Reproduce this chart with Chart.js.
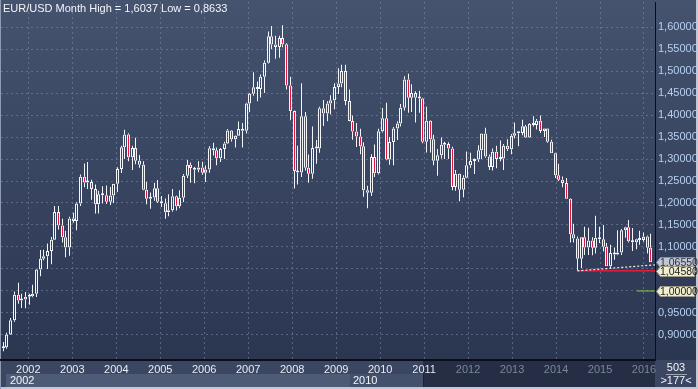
<!DOCTYPE html>
<html>
<head>
<meta charset="utf-8">
<script src="https://cdn.jsdelivr.net/npm/chart.js@4.4.0/dist/chart.umd.min.js"></script>
<style>
html,body{margin:0;padding:0;background:#2e3a55;overflow:hidden}
#wrap{width:698px;height:389px;position:relative}
canvas{display:block}
</style>
</head>
<body>
<div id="wrap"><canvas id="c" width="698" height="389"></canvas></div>
<script>
// ---- categories (one candle per month) ----
const months = [
 '2002-03','2002-04','2002-05','2002-06','2002-07','2002-08','2002-09','2002-10','2002-11','2002-12',
 '2003-01','2003-02','2003-03','2003-04','2003-05','2003-06','2003-07','2003-08','2003-09','2003-10','2003-11','2003-12',
 '2004-01','2004-02','2004-03','2004-04','2004-05','2004-06','2004-07','2004-08','2004-09','2004-10','2004-11','2004-12',
 '2005-01','2005-02','2005-03','2005-04','2005-05','2005-06','2005-07','2005-08','2005-09','2005-10','2005-11','2005-12',
 '2006-01','2006-02','2006-03','2006-04','2006-05','2006-06','2006-07','2006-08','2006-09','2006-10','2006-11','2006-12',
 '2007-01','2007-02','2007-03','2007-04','2007-05','2007-06','2007-07','2007-08','2007-09','2007-10','2007-11','2007-12',
 '2008-01','2008-02','2008-03','2008-04','2008-05','2008-06','2008-07','2008-08','2008-09','2008-10','2008-11','2008-12',
 '2009-01','2009-02','2009-03','2009-04','2009-05','2009-06','2009-07','2009-08','2009-09','2009-10','2009-11','2009-12',
 '2010-01','2010-02','2010-03','2010-04','2010-05','2010-06','2010-07','2010-08','2010-09','2010-10','2010-11','2010-12',
 '2011-01','2011-02','2011-03','2011-04','2011-05','2011-06','2011-07','2011-08','2011-09','2011-10','2011-11','2011-12',
 '2012-01','2012-02','2012-03','2012-04','2012-05','2012-06','2012-07','2012-08','2012-09','2012-10','2012-11','2012-12',
 '2013-01','2013-02','2013-03','2013-04','2013-05','2013-06','2013-07','2013-08','2013-09','2013-10','2013-11','2013-12',
 '2014-01','2014-02','2014-03','2014-04','2014-05','2014-06','2014-07','2014-08','2014-09','2014-10','2014-11','2014-12',
 '2015-01','2015-02','2015-03','2015-04','2015-05','2015-06','2015-07','2015-08','2015-09','2015-10','2015-11','2015-12',
 '2016-01','2016-02','2016-03','2016-04','2016-05','2016-06','2016-07','2016-08','2016-09','2016-10','2016-11'
];

// ---- series values (EUR/USD monthly OHLC) ----
const opens = [
 0.8700,0.8724,0.9011,0.9337,0.9914,0.9782,0.9808,0.9868,0.9883,0.9936,
 1.0487,1.0734,1.0791,1.0910,1.1162,1.1796,1.1489,1.1223,1.0990,1.1650,1.1590,1.1987,
 1.2597,1.2464,1.2479,1.2316,1.1970,1.2201,1.2175,1.2028,1.2172,1.2436,1.2770,1.3267,
 1.3554,1.3037,1.3251,1.2961,1.2871,1.2300,1.2099,1.2124,1.2337,1.2027,1.1993,1.1792,
 1.1837,1.2154,1.1926,1.2120,1.2622,1.2868,1.2794,1.2756,1.2809,1.2686,1.2760,1.3244,
 1.3197,1.3016,1.3227,1.3354,1.3648,1.3451,1.3528,1.3679,1.3640,1.4264,1.4484,1.4633,
 1.4590,1.4867,1.5185,1.5787,1.5600,1.5545,1.5751,1.5610,1.4670,1.4090,1.2730,1.2693,
 1.3970,1.2800,1.2667,1.3249,1.3241,1.4155,1.4033,1.4260,1.4337,1.4636,1.4716,1.5002,
 1.4321,1.3863,1.3624,1.3510,1.3288,1.2290,1.2232,1.3048,1.2677,1.3630,1.3928,1.2986,
 1.3384,1.3696,1.3809,1.4166,1.4807,1.4392,1.4499,1.4392,1.4376,1.3390,1.3870,1.3447,
 1.2961,1.3085,1.3322,1.3342,1.3236,1.2365,1.2664,1.2303,1.2575,1.2858,1.2956,1.2986,
 1.3197,1.3578,1.3057,1.2818,1.3167,1.2999,1.3011,1.3300,1.3221,1.3526,1.3584,1.3589,
 1.3746,1.3486,1.3803,1.3770,1.3869,1.3634,1.3692,1.3390,1.3132,1.2628,1.2526,1.2452,
 1.2098,1.1290,1.1196,1.0731,1.1223,1.0986,1.1147,1.0985,1.1212,1.1177,1.1003,1.0565,
 1.0862,1.0830,1.0873,1.1380,1.1451,1.1131,1.1106,1.1174,1.1158,1.1240,1.0984
];
const highs = [
 0.8840,0.9050,0.9385,0.9990,1.0190,0.9940,0.9980,0.9940,1.0140,1.0500,
 1.0930,1.0935,1.1080,1.1230,1.1930,1.1930,1.1640,1.1370,1.1690,1.1780,1.2015,1.2650,
 1.2900,1.2930,1.2530,1.2420,1.2280,1.2380,1.2400,1.2365,1.2440,1.2810,1.3300,1.3667,
 1.3583,1.3300,1.3485,1.3090,1.2950,1.2480,1.2240,1.2460,1.2520,1.2160,1.2100,1.2200,
 1.2320,1.2170,1.2290,1.2660,1.2980,1.2920,1.2820,1.2950,1.2940,1.2850,1.3290,1.3370,
 1.3260,1.3250,1.3390,1.3680,1.3660,1.3540,1.3850,1.3820,1.4280,1.4500,1.4970,1.4760,
 1.4920,1.5240,1.5900,1.6020,1.5800,1.5800,1.6037,1.5630,1.4870,1.4100,1.3300,1.4720,
 1.4070,1.3100,1.3740,1.3430,1.4190,1.4340,1.4310,1.4450,1.4720,1.5060,1.5140,1.5140,
 1.4580,1.3990,1.3820,1.3690,1.3380,1.2390,1.3110,1.3330,1.3690,1.4160,1.4280,1.3500,
 1.3730,1.3860,1.4250,1.4880,1.4940,1.4700,1.4540,1.4550,1.4390,1.4190,1.3880,1.3550,
 1.3230,1.3490,1.3390,1.3380,1.3280,1.2750,1.2670,1.2630,1.3170,1.3140,1.3010,1.3310,
 1.3580,1.3710,1.3100,1.3240,1.3300,1.3420,1.3340,1.3450,1.3570,1.3830,1.3620,1.3890,
 1.3770,1.3820,1.3970,1.3910,1.3990,1.3700,1.3700,1.3440,1.3140,1.2890,1.2600,1.2570,
 1.2110,1.1530,1.1240,1.1230,1.1460,1.1440,1.1220,1.1710,1.1460,1.1500,1.1090,1.1050,
 1.0990,1.1380,1.1410,1.1460,1.1616,1.1430,1.1190,1.1370,1.1330,1.1260,1.1300
];
const lows = [
 0.8633,0.8690,0.9000,0.9300,0.9710,0.9615,0.9610,0.9690,0.9860,0.9865,
 1.0335,1.0700,1.0500,1.0610,1.1160,1.1400,1.1100,1.0765,1.0800,1.1550,1.1380,1.1930,
 1.2360,1.2320,1.2075,1.1760,1.1760,1.1990,1.1980,1.1955,1.2000,1.2250,1.2680,1.3000,
 1.2950,1.2750,1.2880,1.2800,1.2290,1.1970,1.1870,1.2050,1.2000,1.1910,1.1640,1.1700,
 1.1800,1.1830,1.1880,1.2020,1.2570,1.2460,1.2450,1.2700,1.2640,1.2480,1.2690,1.3080,
 1.2860,1.2930,1.3000,1.3340,1.3400,1.3260,1.3520,1.3260,1.3580,1.4070,1.4440,1.4310,
 1.4400,1.4500,1.5170,1.5500,1.5280,1.5300,1.5540,1.4580,1.3880,1.2330,1.2420,1.2590,
 1.2740,1.2460,1.2550,1.2890,1.3140,1.3750,1.3860,1.4010,1.4130,1.4480,1.4630,1.4220,
 1.3860,1.3440,1.3270,1.3110,1.2140,1.1880,1.2160,1.2590,1.2650,1.3600,1.2970,1.2870,
 1.2860,1.3430,1.3740,1.4100,1.4050,1.4070,1.3830,1.4050,1.3360,1.3150,1.3150,1.2860,
 1.2620,1.3010,1.3000,1.3000,1.2290,1.2280,1.2040,1.2130,1.2560,1.2800,1.2660,1.2930,
 1.3000,1.3030,1.2750,1.2740,1.2790,1.2950,1.2750,1.3180,1.3110,1.3470,1.3290,1.3540,
 1.3480,1.3480,1.3740,1.3670,1.3590,1.3500,1.3370,1.3130,1.2570,1.2500,1.2360,1.2090,
 1.1100,1.1100,1.0458,1.0520,1.0820,1.0820,1.0810,1.0850,1.1090,1.0900,1.0560,1.0520,
 1.0710,1.0810,1.0820,1.1210,1.1100,1.0910,1.0950,1.1050,1.1120,1.0850,1.0652
];
const closes = [
 0.8724,0.9011,0.9337,0.9914,0.9782,0.9808,0.9868,0.9883,0.9936,1.0487,
 1.0734,1.0791,1.0910,1.1162,1.1796,1.1489,1.1223,1.0990,1.1650,1.1590,1.1987,1.2597,
 1.2464,1.2479,1.2316,1.1970,1.2201,1.2175,1.2028,1.2172,1.2436,1.2770,1.3267,1.3554,
 1.3037,1.3251,1.2961,1.2871,1.2300,1.2099,1.2124,1.2337,1.2027,1.1993,1.1792,1.1837,
 1.2154,1.1926,1.2120,1.2622,1.2868,1.2794,1.2756,1.2809,1.2686,1.2760,1.3244,1.3197,
 1.3016,1.3227,1.3354,1.3648,1.3451,1.3528,1.3679,1.3640,1.4264,1.4484,1.4633,1.4590,
 1.4867,1.5185,1.5787,1.5600,1.5545,1.5751,1.5610,1.4670,1.4090,1.2730,1.2693,1.3970,
 1.2800,1.2667,1.3249,1.3241,1.4155,1.4033,1.4260,1.4337,1.4636,1.4716,1.5002,1.4321,
 1.3863,1.3624,1.3510,1.3288,1.2290,1.2232,1.3048,1.2677,1.3630,1.3928,1.2986,1.3384,
 1.3696,1.3809,1.4166,1.4807,1.4392,1.4499,1.4392,1.4376,1.3390,1.3870,1.3447,1.2961,
 1.3085,1.3322,1.3342,1.3236,1.2365,1.2664,1.2303,1.2575,1.2858,1.2956,1.2986,1.3197,
 1.3578,1.3057,1.2818,1.3167,1.2999,1.3011,1.3300,1.3221,1.3526,1.3584,1.3589,1.3746,
 1.3486,1.3803,1.3770,1.3869,1.3634,1.3692,1.3390,1.3132,1.2628,1.2526,1.2452,1.2098,
 1.1290,1.1196,1.0731,1.1223,1.0986,1.1147,1.0985,1.1212,1.1177,1.1003,1.0565,1.0862,
 1.0830,1.0873,1.1380,1.1451,1.1131,1.1106,1.1174,1.1158,1.1240,1.0984,1.0655
];

// ---- tick labels ----
const yearTickLabels = ['2002','2003','2004','2005','2006','2007','2008','2009','2010','2011','2012','2013','2014','2015','2016'];
const yearTickPos    = [6.8, 18.75, 30.7, 42.65, 54.6, 66.55, 78.5, 90.45, 102.4, 114.35, 126.3, 138.25, 150.2, 162.15, 174.1];
const priceTicks = [0.90,0.95,1.00,1.05,1.10,1.15,1.20,1.25,1.30,1.35,1.40,1.45,1.50,1.55,1.60];

// ---- drawn level lines (bar index, price) ----
const supportIdx   = [156, 177.09];  const supportPrice = [1.0458, 1.0458];
const trendIdx     = [156, 177.09];  const trendPrice   = [1.0458, 1.0594];
const parityIdx    = [172.2, 177.09]; const parityPrice = [1.0000, 1.0000];

// ---- price tags on the right axis ----
const tagValues = [1.0655, 1.0458, 1.0000];
const tagLabels = ['1,06550', '1,04580', '1,00000'];

const titleText = 'EUR/USD Month High = 1,6037 Low = 0,8633';

const FONT = "'Liberation Sans Narrow', 'Arial Narrow', 'Liberation Sans', Arial, sans-serif";
const WHITE = '#f3f5f9';
const RED = '#e3153d';
const XWHITE = '#e8edf5', XGREY = '#7b869a';
const NAV_SPLIT = 423.5;

const bodyData  = months.map((m,i)=>({x:i, y:[Math.min(opens[i],closes[i]), Math.max(opens[i],closes[i])]}));
const upperData = months.map((m,i)=>({x:i, y:[Math.max(opens[i],closes[i]), highs[i]]}));
const lowerData = months.map((m,i)=>({x:i, y:[lows[i], Math.min(opens[i],closes[i])]}));
const toXY = (xs, ys) => xs.map((x,i)=>({x:x, y:ys[i]}));

const snapPlugin = {
  id:'snap',
  afterDatasetsUpdate(chart){
    chart.data.datasets.forEach((ds,di)=>{
      if (ds.type !== 'bar') return;
      chart.getDatasetMeta(di).data.forEach(el=>{ el.x = Math.floor(el.x) + 0.5; });
    });
  }
};

const framePlugin = {
  id:'frame',
  beforeDraw(chart){
    const {ctx, chartArea:a} = chart;
    const W = chart.width, H = chart.height;
    ctx.save();
    ctx.fillStyle = '#3a4662';
    ctx.fillRect(0,0,W,H);
    const g = ctx.createLinearGradient(0,0,0,a.bottom);
    g.addColorStop(0,'#45536f');
    g.addColorStop(1,'#2b3651');
    ctx.fillStyle = g;
    ctx.fillRect(0,0,W,a.bottom);
    // time axis rows
    ctx.fillStyle = '#3a4662'; ctx.fillRect(0,a.bottom,423,14);
    ctx.fillStyle = '#252e45'; ctx.fillRect(423,a.bottom,a.right-423,27);
    ctx.fillStyle = '#4e5b77'; ctx.fillRect(6,a.bottom+14,344,13);
    ctx.fillStyle = '#44516d'; ctx.fillRect(350,a.bottom+14,73,13);
    ctx.fillStyle = '#1b2234'; ctx.fillRect(423,a.bottom+14,1,13);
    ctx.fillStyle = '#3a4662'; ctx.fillRect(a.right,a.bottom,W-a.right,H-a.bottom);
    // outer light frame
    ctx.fillStyle = '#c2c9d5';
    ctx.fillRect(0,H-2,W,2);
    ctx.fillRect(W-2,0,2,H);
    ctx.fillStyle = '#8e9bb2';
    ctx.fillRect(0,0,1,H);
    ctx.restore();
  },
  afterDraw(chart){
    const {ctx, chartArea:a, scales:{y}} = chart;
    ctx.save();
    ctx.font = '11px ' + FONT;
    ctx.textBaseline = 'middle';
    ctx.textAlign = 'left';
    ctx.fillStyle = WHITE;
    ctx.fillText(titleText, 3, 9);
    // second time row
    ctx.fillText('2002', 10, a.bottom + 21);
    ctx.fillText('2010', 353, a.bottom + 21);
    // bottom-right counter
    ctx.textAlign = 'center';
    ctx.fillText('503', 676, a.bottom + 8);
    ctx.fillStyle = '#9aa4b6';
    ctx.fillRect(666, a.bottom + 14, 21, 1);
    ctx.fillStyle = WHITE;
    ctx.fillText('>177<', 676, a.bottom + 21);
    // price tags
    const styles = [
      {bg:'#c0c7d3', fg:'#2a3142', bd:'#8a93a4'},
      {bg:'#f1eed0', fg:'#1c1c1c', bd:'#9c9a86'},
      {bg:'#f1eed0', fg:'#1c1c1c', bd:'#9c9a86'}
    ];
    ctx.textAlign = 'left';
    ctx.font = '10.5px ' + FONT;
    tagValues.forEach((v,i)=>{
      const py = Math.round(y.getPixelForValue(v)) + 0.5;
      const s = styles[i], h = 10, tip = a.right + 1.5, l = a.right + 5.5, r = 694.5;
      ctx.beginPath();
      ctx.moveTo(tip, py);
      ctx.lineTo(l, py - h/2);
      ctx.lineTo(r, py - h/2);
      ctx.lineTo(r, py + h/2);
      ctx.lineTo(l, py + h/2);
      ctx.closePath();
      ctx.fillStyle = s.bg; ctx.fill();
      ctx.strokeStyle = s.bd; ctx.lineWidth = 1; ctx.stroke();
      ctx.fillStyle = s.fg;
      ctx.fillText(tagLabels[i], l - 0.5, py + 0.5);
    });
    ctx.restore();
  }
};

const gridColor = 'rgba(125,140,168,0.55)';

function xLabelColor(c){
  const v = c.tick ? c.tick.value : 0;
  const px = c.chart.scales.x ? c.chart.scales.x.getPixelForValue(v) : 0;
  if (px + 12 < NAV_SPLIT) return XWHITE;
  if (px - 12 > NAV_SPLIT) return XGREY;
  const g = c.chart.ctx.createLinearGradient(0,0,c.chart.width,0);
  const s = NAV_SPLIT / c.chart.width;
  g.addColorStop(0, XWHITE); g.addColorStop(s, XWHITE);
  g.addColorStop(s, XGREY);  g.addColorStop(1, XGREY);
  return g;
}

new Chart(document.getElementById('c'), {
  type: 'bar',
  data: {
    datasets: [
      {type:'bar', label:'upper wick', data: upperData, backgroundColor: WHITE, borderWidth:0,
       barThickness:1, grouped:false, order:4, inflateAmount:0},
      {type:'bar', label:'lower wick', data: lowerData, backgroundColor: WHITE, borderWidth:0,
       barThickness:1, grouped:false, order:4, inflateAmount:0},
      {type:'bar', label:'body', data: bodyData,
       backgroundColor: c => (closes[c.dataIndex] >= opens[c.dataIndex]) ? 'rgba(0,0,0,0)' : RED,
       borderColor: WHITE, borderWidth:1, borderSkipped:false, barThickness:3, minBarLength:2,
       grouped:false, order:3, inflateAmount:0},
      {type:'line', label:'support', data: toXY(supportIdx, supportPrice), borderColor:'#e01e3c',
       borderWidth:1.5, pointRadius:0, order:2},
      {type:'line', label:'trend', data: toXY(trendIdx, trendPrice), borderColor:'#eef1f6',
       borderWidth:1.2, borderDash:[2,2], pointRadius:0, order:1},
      {type:'line', label:'parity', data: toXY(parityIdx, parityPrice), borderColor:'#8cc84b',
       borderWidth:1, pointRadius:0, order:1}
    ]
  },
  options: {
    responsive:false,
    devicePixelRatio:1,
    animation:false,
    events:[],
    layout:{padding:{left:1, top:2, right:0, bottom:0}},
    plugins:{legend:{display:false}, tooltip:{enabled:false}, title:{display:false}},
    scales:{
      x:{
        type:'linear', position:'bottom', min:-0.625, max:177.09, offset:false,
        grid:{color:gridColor, drawTicks:false, offset:false, lineWidth:1},
        border:{display:true, color:'#0b0e16', width:2, dash:[2,3]},
        ticks:{
          font:{family:FONT, size:11}, padding:3, autoSkip:false, maxRotation:0,
          color: xLabelColor,
          callback: (v, i) => yearTickLabels[i]
        },
        afterBuildTicks: s => { s.ticks = yearTickPos.map(v=>({value:v})); },
        afterFit: s => { s.height = 29; s.paddingLeft = 0; s.paddingRight = 0; }
      },
      y:{
        type:'linear', position:'right', min:0.84318, max:1.65682,
        grid:{color:gridColor, drawTicks:false, lineWidth:1},
        border:{display:true, color:'#0b0e16', width:1, dash:[2,3]},
        ticks:{
          font:{family:FONT, size:11}, padding:3, color:'#b6d0f0',
          callback: v => v.toFixed(5).replace('.', ',')
        },
        afterBuildTicks: s => { s.ticks = priceTicks.map(v=>({value:v})); },
        afterFit: s => { s.width = 43; s.paddingTop = 0; s.paddingBottom = 0; }
      }
    }
  },
  plugins:[snapPlugin, framePlugin]
});
</script>
</body>
</html>
